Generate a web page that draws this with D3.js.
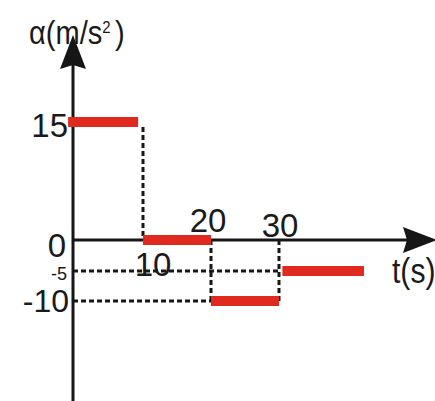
<!DOCTYPE html>
<html>
<head>
<meta charset="utf-8">
<script src="https://cdn.jsdelivr.net/npm/d3@7"></script>
<style>
  body { margin: 0; background: #fff; }
  svg { display: block; }
  text { font-family: "Liberation Sans", Arial, sans-serif; fill: #1a1a1a; }
</style>
</head>
<body>
<div id="chart"></div>
<script>
// segments of the a-t graph (start/end, in s)
const segStart = [-0.7, 10, 20, 30.5];
const segEnd = [9.3, 20, 30, 42.5];
const segValue = [15, 0, -10, -5];

// tick labels
const yTicks = ["15", "0", "-5", "-10"];
const yTickValues = [15, 0, -5, -10];
const xTicks = ["10", "20", "30"];
const xTickValues = [10, 20, 30];

const yTitle = "α(m/s";
const xTitle = "t(s)";

let width = 435,
    height = 401;

const svg = d3.select("#chart")
    .append("svg")
    .attr("width", width)
    .attr("height", height);

// the sketch is not drawn to a single scale, so use piecewise scales
let x = d3.scaleLinear()
    .domain([0, 10, 20, 30])
    .range([73, 143, 211, 279]);

let y = d3.scaleLinear()
    .domain([-10, -5, 0, 15])
    .range([301, 271, 240, 122]);

const ink = "#161616",
      red = "#e0291f";

// dashed guide lines
const guides = [
    { x1: 10, y1: 15, x2: 10, y2: 0, dy1: 5 },
    { x1: 20, y1: 0, x2: 20, y2: -10, dy1: 0 },
    { x1: 30, y1: 0, x2: 30, y2: -10, dy1: 0 },
    { x1: 0, y1: -5, x2: 30, y2: -5, dy1: 0 },
    { x1: 0, y1: -10, x2: 20, y2: -10, dy1: 0 },
];

svg.append("g")
    .selectAll("line")
    .data(guides)
    .join("line")
    .attr("x1", d => x(d.x1))
    .attr("y1", d => y(d.y1) + d.dy1)
    .attr("x2", d => x(d.x2))
    .attr("y2", d => y(d.y2))
    .attr("stroke", ink)
    .attr("stroke-width", 3)
    .attr("stroke-dasharray", "5,3");

// axes with arrows
svg.append("line")
    .attr("x1", x(0)).attr("x2", x(0))
    .attr("y1", height).attr("y2", 64)
    .attr("stroke", ink)
    .attr("stroke-width", 3);

svg.append("line")
    .attr("x1", x(0)).attr("x2", 408)
    .attr("y1", y(0)).attr("y2", y(0))
    .attr("stroke", ink)
    .attr("stroke-width", 3);

let ax = x(0);
svg.append("path")
    .attr("d", `M${ax},35 L${ax + 13},69 L${ax},65 L${ax - 13},69 Z`)
    .attr("fill", ink);

let ay = y(0);
svg.append("path")
    .attr("d", `M437,${ay} L403,${ay - 13} L407,${ay} L403,${ay + 13} Z`)
    .attr("fill", ink);

// red bars
const segs = segValue.map((v, i) => ({ v: v, t0: segStart[i], t1: segEnd[i] }));

svg.append("g")
    .selectAll("rect")
    .data(segs)
    .join("rect")
    .attr("x", d => x(d.t0))
    .attr("width", d => x(d.t1) - x(d.t0))
    .attr("y", d => y(d.v) - 5)
    .attr("height", 10)
    .attr("fill", red);

// y tick labels
const yLab = [
    { dx: 68, dy: 15, size: 33 },
    { dx: 66, dy: 17, size: 33 },
    { dx: 67, dy: 9, size: 18 },
    { dx: 69, dy: 11, size: 32 },
];

svg.append("g")
    .selectAll("text")
    .data(yTicks)
    .join("text")
    .attr("text-anchor", "end")
    .attr("x", (d, i) => yLab[i].dx)
    .attr("y", (d, i) => y(yTickValues[i]) + yLab[i].dy)
    .style("font-size", (d, i) => yLab[i].size + "px")
    .text(d => d);

// x tick labels (placed as in the sketch)
const xLab = [
    { dx: 10, dy: 36 },
    { dx: -3, dy: -8 },
    { dx: 1, dy: -3 },
];

svg.append("g")
    .selectAll("text")
    .data(xTicks)
    .join("text")
    .attr("text-anchor", "middle")
    .attr("x", (d, i) => x(xTickValues[i]) + xLab[i].dx)
    .attr("y", (d, i) => y(0) + xLab[i].dy)
    .style("font-size", "33px")
    .text(d => d);

// axis titles (slightly condensed like the original lettering)
let yt = svg.append("text")
    .attr("transform", "translate(29,44) scale(0.88,1)")
    .style("font-size", "33px");
yt.append("tspan").text(yTitle);
yt.append("tspan")
    .attr("dy", -11)
    .style("font-size", "17px")
    .text("2");
yt.append("tspan")
    .attr("dy", 11)
    .attr("dx", 5)
    .text(")");

svg.append("text")
    .attr("transform", "translate(392,283) scale(0.86,1)")
    .style("font-size", "35px")
    .text(xTitle);
</script>
</body>
</html>
